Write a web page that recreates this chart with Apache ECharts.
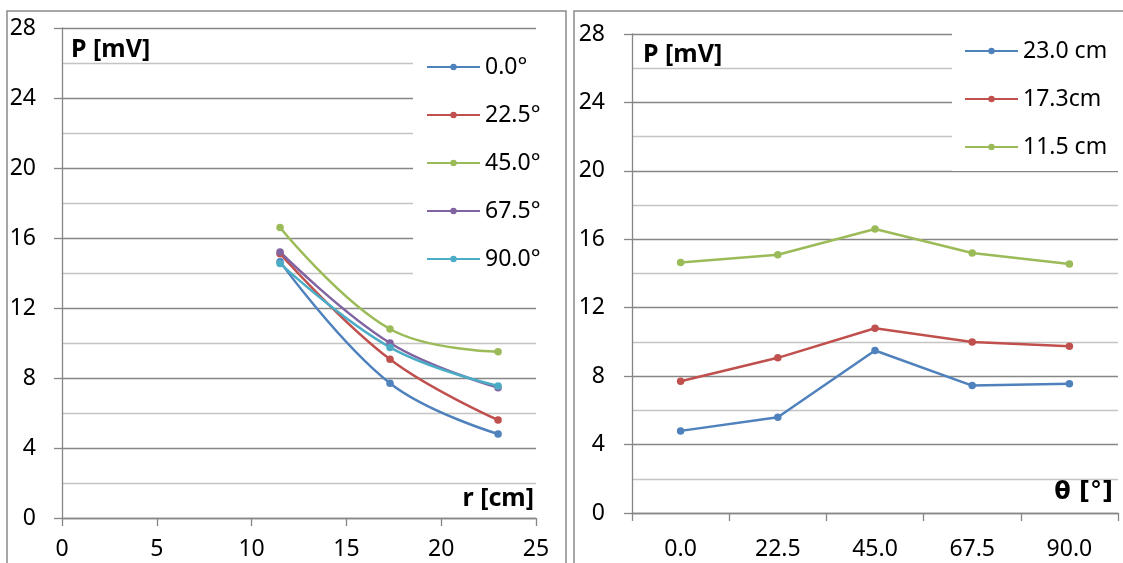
<!DOCTYPE html>
<html>
<head>
<meta charset="utf-8">
<script src="https://cdn.jsdelivr.net/npm/echarts@6/dist/echarts.min.js"></script>
<style>
  html, body { margin: 0; padding: 0; background: #fff; }
  #chart { width: 1123px; height: 563px; }
</style>
</head>
<body>
<div id="chart"></div>
<script>
// ---- data ----
const rValues = [11.5, 17.3, 23.0];                 // r [cm]
const angleNames = ['0.0°', '22.5°', '45.0°', '67.5°', '90.0°'];
const thetaCategories = ['0.0', '22.5', '45.0', '67.5', '90.0'];
const distanceNames = ['23.0 cm', '17.3cm', '11.5 cm'];
const p_r23 = [4.8, 5.6, 9.5, 7.45, 7.55];          // P at r = 23.0 cm, per angle
const p_r17 = [7.7, 9.07, 10.8, 10.0, 9.75];        // P at r = 17.3 cm, per angle
const p_r11 = [14.65, 15.1, 16.6, 15.2, 14.55];     // P at r = 11.5 cm, per angle
const rTicks = [0, 5, 10, 15, 20, 25];
const pTicks = [0, 4, 8, 12, 16, 20, 24, 28];

// ---- styles ----
const angleColors = ['#4F81BD', '#C0504D', '#9BBB59', '#8064A2', '#4BACC6'];
const distColors = ['#4F81BD', '#C0504D', '#9BBB59'];
const FONT = '"Noto Sans", "Open Sans", sans-serif';
const AX = '#868686';
const MINOR = '#c4c4c4';

const byDistance = [p_r11, p_r17, p_r23]; // ordered like rValues

const leftSeries = angleNames.map((name, i) => ({
  name: name,
  type: 'line',
  xAxisIndex: 0, yAxisIndex: 0,
  smooth: 0.4,
  symbol: 'circle', symbolSize: 7.5,
  lineStyle: { width: 2.5, color: angleColors[i] },
  itemStyle: { color: angleColors[i] },
  data: rValues.map((r, k) => [r, byDistance[k][i]])
}));

const rightData = [p_r23, p_r17, p_r11];
const rightSeries = distanceNames.map((name, i) => ({
  name: name,
  type: 'line',
  xAxisIndex: 1, yAxisIndex: 1,
  symbol: 'circle', symbolSize: 7.5,
  lineStyle: { width: 2.5, color: distColors[i] },
  itemStyle: { color: distColors[i] },
  data: rightData[i]
}));

function yAxis(gridIndex, margin) {
  return {
    type: 'value', gridIndex: gridIndex,
    min: pTicks[0], max: pTicks[pTicks.length - 1], interval: 4,
    axisLine: { show: true, lineStyle: { color: AX, width: 1.3 } },
    axisTick: { show: true, length: 8, lineStyle: { color: AX, width: 1.3 } },
    axisLabel: { color: '#000', fontSize: 23, fontFamily: FONT, margin: margin },
    splitLine: { show: true, lineStyle: { color: AX, width: 1.3 } },
    minorTick: { show: false, splitNumber: 2 },
    minorSplitLine: { show: true, lineStyle: { color: MINOR, width: 1.3 } }
  };
}

const legendText = { color: '#000', fontSize: 23, fontFamily: FONT, lineHeight: 24 };

const option = {
  animation: false,
  backgroundColor: '#fff',
  grid: [
    { left: 62, top: 28, width: 474, height: 490 },
    { left: 632, top: 34, width: 486, height: 479 }
  ],
  xAxis: [
    {
      type: 'value', gridIndex: 0,
      min: rTicks[0], max: rTicks[rTicks.length - 1], interval: 5,
      axisLine: { show: true, lineStyle: { color: AX, width: 1.3 } },
      axisTick: { show: true, length: 8, lineStyle: { color: AX, width: 1.3 } },
      axisLabel: { color: '#000', fontSize: 23, fontFamily: FONT, margin: 20 },
      splitLine: { show: false }
    },
    {
      type: 'category', gridIndex: 1,
      data: thetaCategories,
      boundaryGap: true,
      axisLine: { show: true, lineStyle: { color: AX, width: 1.3 } },
      axisTick: { show: true, length: 8, alignWithLabel: false, lineStyle: { color: AX, width: 1.3 } },
      axisLabel: { color: '#000', fontSize: 23, fontFamily: FONT, margin: 25 },
      splitLine: { show: false }
    }
  ],
  yAxis: [yAxis(0, 26), yAxis(1, 27)],
  legend: [
    {
      data: angleNames,
      orient: 'vertical',
      left: 413, top: 35,
      padding: [20, 12, 18, 13],
      backgroundColor: '#fff',
      itemWidth: 53, itemHeight: 8,
      itemGap: 24,
      textStyle: legendText,
      selectedMode: false
    },
    {
      data: distanceNames,
      orient: 'vertical',
      left: 952, top: 25,
      padding: [14, 12, 12, 12],
      backgroundColor: '#fff',
      itemWidth: 53, itemHeight: 8,
      itemGap: 24,
      textStyle: legendText,
      selectedMode: false
    }
  ],
  graphic: [
    { type: 'rect', z: -10, silent: true, shape: { x: 7, y: 11, width: 559, height: 600 },
      style: { fill: 'none', stroke: '#8a8a8a', lineWidth: 1.5 } },
    { type: 'rect', z: -10, silent: true, shape: { x: 574, y: 11, width: 600, height: 600 },
      style: { fill: 'none', stroke: '#8a8a8a', lineWidth: 1.5 } },
    { type: 'text', z: 50, left: 71, top: 37,
      style: { text: 'P [mV]', font: 'bold 25px "Noto Sans", sans-serif', fill: '#000' } },
    { type: 'text', z: 50, left: 643, top: 42,
      style: { text: 'P [mV]', font: 'bold 25px "Noto Sans", sans-serif', fill: '#000' } },
    { type: 'text', z: 50, right: 1123 - 534, top: 486,
      style: { text: 'r [cm]', font: 'bold 25px "Noto Sans", sans-serif', fill: '#000' } },
    { type: 'text', z: 50, right: 1123 - 1113, top: 481,
      style: { text: 'θ [°]', font: 'bold 24px "DejaVu Sans", sans-serif', fill: '#000' } }
  ],
  series: leftSeries.concat(rightSeries)
};

const chart = echarts.init(document.getElementById('chart'), null, { renderer: 'canvas' });
chart.setOption(option);
</script>
</body>
</html>
